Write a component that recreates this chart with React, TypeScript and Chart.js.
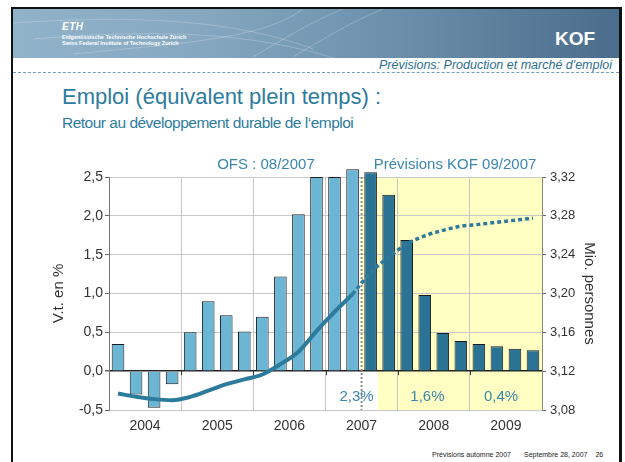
import { useEffect, useRef } from 'react';
import { Chart, registerables } from 'chart.js';

Chart.register(...registerables);

// ---------- data ----------
const years = ['2004', '2005', '2006', '2007', '2008', '2009'];
const quarterNames = ['T1', 'T2', 'T3', 'T4'];
const quarters = years.flatMap((y) => quarterNames.map((q) => `${y} ${q}`));

// Employment growth, % vs. same quarter of previous year (bars, left axis)
const growthPct = [
  0.35, -0.30, -0.47, -0.17,
  0.50, 0.90, 0.72, 0.51,
  0.70, 1.22, 2.02, 2.50,
  2.50, 2.60, 2.56, 2.27,
  1.69, 0.98, 0.49, 0.39,
  0.35, 0.32, 0.29, 0.27,
];

// Employment level, million full-time equivalents (line, right axis)
const levelMio = [
  3.0970, 3.0937, 3.0912, 3.0901,
  3.0935, 3.0999, 3.1066, 3.1115,
  3.1166, 3.1272, 3.1401, 3.1612,
  3.1810, 3.1993, 3.2215, 3.2374,
  3.2510, 3.2594, 3.2650, 3.2693,
  3.2712, 3.2734, 3.2755, 3.2775,
];

// index of first forecast quarter (2007 T3)
const forecastStart = 14;

const leftTicks = [-0.5, 0, 0.5, 1.0, 1.5, 2.0, 2.5];
const rightTicks = [3.08, 3.12, 3.16, 3.20, 3.24, 3.28, 3.32];
const yearGrowthLabels = ['2,3%', '1,6%', '0,4%'];
const sourceLabels = ['OFS : 08/2007', 'Prévisions KOF 09/2007'];

// ---------- style ----------
const FONT = '"Liberation Sans", Arial, sans-serif';
const lightBar = '#6bb6d5';
const darkBar = '#2b7395';
const lineColor = '#2c7a9c';
const gridGray = '#c8c8c8';
const noteColor = '#3a86ae';
const titleColor = '#2d7b9d';

const slidePlugin = {
  id: 'slideDecor',
  beforeDraw(chart: any) {
    const { ctx, chartArea: a, scales } = chart;
    const slot = a.width / quarters.length;
    const xs = a.left + forecastStart * slot;
    const zeroY = scales.y.getPixelForValue(0);
    ctx.save();
    ctx.fillStyle = '#ffffc4';
    ctx.fillRect(xs, a.top, a.right - xs, a.bottom - a.top);
    ctx.fillStyle = '#ffffff';
    ctx.fillRect(xs, zeroY, 0.9 * slot, a.bottom - zeroY);
    ctx.restore();
  },
  beforeDatasetsDraw(chart: any) {
    const { ctx, chartArea: a } = chart;
    const slot = a.width / quarters.length;
    const xs = a.left + forecastStart * slot;
    ctx.save();
    ctx.strokeStyle = '#8c8c8c';
    ctx.lineWidth = 2;
    ctx.setLineDash([2, 2]);
    ctx.beginPath();
    ctx.moveTo(xs, a.top);
    ctx.lineTo(xs, a.bottom);
    ctx.stroke();
    ctx.restore();
  },
  afterDatasetsDraw(chart: any) {
    const { ctx, chartArea: a, scales } = chart;
    const slot = a.width / quarters.length;
    const zeroY = scales.y.getPixelForValue(0);
    ctx.save();
    ctx.strokeStyle = '#333';
    ctx.lineWidth = 1;
    for (let k = 1; k < years.length; k++) {
      const x = Math.round(a.left + 4 * k * slot) + 0.5;
      ctx.beginPath();
      ctx.moveTo(x, zeroY);
      ctx.lineTo(x, zeroY + 4);
      ctx.stroke();
    }
    ctx.restore();
  },
  afterDraw(chart: any) {
    const { ctx, chartArea: a, scales } = chart;
    const slot = a.width / quarters.length;
    const zeroY = scales.y.getPixelForValue(0);
    ctx.save();
    ctx.fillStyle = noteColor;
    ctx.font = `15px ${FONT}`;
    ctx.textAlign = 'center';
    ctx.textBaseline = 'middle';
    ctx.fillText(sourceLabels[0], a.left + 8.7 * slot, a.top - 12);
    ctx.fillText(sourceLabels[1], a.left + 19.18 * slot, a.top - 12);
    const py = zeroY + 0.65 * (a.bottom - zeroY);
    const pos = [13.72, 17.65, 21.73];
    yearGrowthLabels.forEach((t, i) => ctx.fillText(t, a.left + pos[i] * slot, py));
    ctx.restore();
  },
};

export default function App() {
  const ref = useRef<HTMLCanvasElement>(null);

  useEffect(() => {
    if (!ref.current) return;
    const chart = new Chart(ref.current, {
      type: 'bar',
      data: {
        labels: quarters,
        datasets: [
          {
            type: 'line',
            data: levelMio.map((v, i) => (i < forecastStart ? v : null)),
            yAxisID: 'y2',
            borderColor: lineColor,
            borderWidth: 4,
            pointRadius: 0,
            cubicInterpolationMode: 'monotone',
            order: 0,
          } as any,
          {
            type: 'line',
            data: levelMio.map((v, i) => (i >= forecastStart - 1 ? v : null)),
            yAxisID: 'y2',
            borderColor: lineColor,
            borderWidth: 3.5,
            borderDash: [4, 3],
            pointRadius: 0,
            cubicInterpolationMode: 'monotone',
            order: 0,
          } as any,
          {
            type: 'bar',
            data: growthPct,
            yAxisID: 'y',
            backgroundColor: growthPct.map((_, i) => (i < forecastStart ? lightBar : darkBar)),
            borderColor: '#1c1c1c',
            borderWidth: 1,
            barPercentage: 0.7,
            categoryPercentage: 1,
            order: 1,
            clip: false,
          } as any,
        ],
      },
      options: {
        responsive: false,
        animation: false,
        layout: { padding: { left: 40, right: 20, top: 177, bottom: 20 } },
        plugins: { legend: { display: false }, tooltip: { enabled: false } },
        scales: {
          x: {
            type: 'category',
            offset: true,
            grid: {
              offset: true,
              drawTicks: false,
              color: (c: any) => (c.index !== undefined && c.index % 4 === 0 ? gridGray : 'transparent'),
            },
            border: { color: gridGray },
            ticks: {
              autoSkip: false,
              maxRotation: 0,
              minRotation: 0,
              labelOffset: 9,
              padding: 8,
              color: '#333',
              font: { family: FONT, size: 14 },
              callback: (_v: any, i: number) => (i % 4 === 1 ? quarters[i].slice(0, 4) : ''),
            },
            afterFit: (s: any) => {
              s.height = 32;
            },
          },
          y: {
            position: 'left',
            min: -0.5,
            max: 2.5,
            afterBuildTicks: (s: any) => {
              s.ticks = leftTicks.map((v) => ({ value: v }));
            },
            grid: {
              color: (c: any) => (c.tick && c.tick.value === 0 ? '#222' : gridGray),
              lineWidth: (c: any) => (c.tick && c.tick.value === 0 ? 1.5 : 1),
              tickLength: 4,
              tickColor: '#666',
            },
            border: { color: '#777' },
            ticks: {
              padding: 2,
              color: '#333',
              font: { family: FONT, size: 14 },
              callback: (v: any) => Number(v).toFixed(1).replace('.', ','),
            },
            title: {
              display: true,
              text: 'V.t. en %',
              color: '#333',
              font: { family: FONT, size: 15 },
              padding: { top: 10, bottom: 0 },
            },
            afterFit: (s: any) => {
              s.width = 69;
            },
          },
          y2: {
            position: 'right',
            min: 3.08,
            max: 3.32,
            afterBuildTicks: (s: any) => {
              s.ticks = rightTicks.map((v) => ({ value: v }));
            },
            grid: { drawOnChartArea: false, tickLength: 4, tickColor: '#666' },
            border: { color: '#8a8a70' },
            ticks: {
              padding: 4,
              color: '#333',
              font: { family: FONT, size: 13 },
              callback: (v: any) => Number(v).toFixed(2).replace('.', ','),
            },
            title: {
              display: true,
              text: 'Mio. personnes',
              color: '#333',
              font: { family: FONT, size: 15 },
              padding: { top: 7, bottom: 0 },
            },
            afterFit: (s: any) => {
              s.width = 63;
            },
          },
        },
      } as any,
      plugins: [slidePlugin],
    });
    return () => chart.destroy();
  }, []);

  return (
    <div
      style={{
        position: 'fixed',
        left: 0,
        top: 0,
        width: 625,
        height: 462,
        background: '#fff',
        overflow: 'hidden',
        fontFamily: FONT,
      }}
    >
      {/* slide frame */}
      <div style={{ position: 'absolute', left: 11, top: 7, width: 611, height: 2, background: '#111' }} />
      <div style={{ position: 'absolute', left: 11, top: 7, width: 2, height: 455, background: '#111' }} />
      <div style={{ position: 'absolute', left: 619, top: 7, width: 3, height: 455, background: '#111' }} />
      {/* banner */}
      <div
        style={{
          position: 'absolute',
          left: 13,
          top: 9,
          width: 606,
          height: 49,
          background: 'linear-gradient(90deg, #91b3ca 0%, #86a8c0 30%, #6e92ae 60%, #4b6d8c 100%)',
          overflow: 'hidden',
        }}
      >
        <svg width={606} height={49} style={{ position: 'absolute', left: 0, top: 0 }}>
          <g fill="none" stroke="#ffffff" strokeOpacity={0.22} strokeWidth={1}>
            <path d="M0 14 C 120 6, 220 10, 300 40" />
            <path d="M20 30 C 140 20, 240 22, 330 52" />
            <path d="M60 45 C 170 34, 250 30, 290 0" />
            <path d="M240 48 C 270 30, 300 12, 330 0" />
            <path d="M280 48 C 310 30, 340 12, 370 0" />
          </g>
        </svg>
        <div style={{ position: 'absolute', left: 49, top: 13, color: '#fff', fontWeight: 900, fontStyle: 'italic', fontSize: 10, lineHeight: '10px', letterSpacing: 0.5 }}>
          ETH
        </div>
        <div style={{ position: 'absolute', left: 49, top: 25, color: '#fff', fontWeight: 700, fontSize: 5.5, lineHeight: '6px', whiteSpace: 'nowrap' }}>
          Eidgenössische Technische Hochschule Zürich
          <br />
          Swiss Federal Institute of Technology Zurich
        </div>
        <div style={{ position: 'absolute', left: 542, top: 20, color: '#fff', fontWeight: 900, fontSize: 19, lineHeight: '19px' }}>
          KOF
        </div>
      </div>
      <div
        style={{
          position: 'absolute',
          right: 13,
          top: 59,
          color: '#2b6e8e',
          fontStyle: 'italic',
          fontSize: 12.5,
          lineHeight: '13px',
          whiteSpace: 'nowrap',
        }}
      >
        Prévisions: Production et marché d'emploi
      </div>
      <div style={{ position: 'absolute', left: 13, top: 72, width: 606, borderTop: '1px dashed #6f9cb6' }} />
      {/* titles */}
      <div style={{ position: 'absolute', left: 62, top: 86, color: titleColor, fontSize: 22, lineHeight: '22px', whiteSpace: 'nowrap' }}>
        Emploi (équivalent plein temps) :
      </div>
      <div style={{ position: 'absolute', left: 62, top: 115, color: titleColor, fontSize: 15.5, lineHeight: '16px', letterSpacing: -0.5, whiteSpace: 'nowrap' }}>
        Retour au développement durable de l‘emploi
      </div>
      {/* footer */}
      <div style={{ position: 'absolute', left: 432, top: 451, color: '#222', fontSize: 7, lineHeight: '8px', whiteSpace: 'nowrap' }}>
        <span>Prévisions automne 2007</span>
        <span style={{ marginLeft: 13 }}>Septembre 28, 2007</span>
        <span style={{ marginLeft: 8 }}>26</span>
      </div>
      <canvas
        ref={ref}
        width={625}
        height={462}
        style={{ position: 'absolute', left: 0, top: 0, width: 625, height: 462, display: 'block' }}
      />
    </div>
  );
}
